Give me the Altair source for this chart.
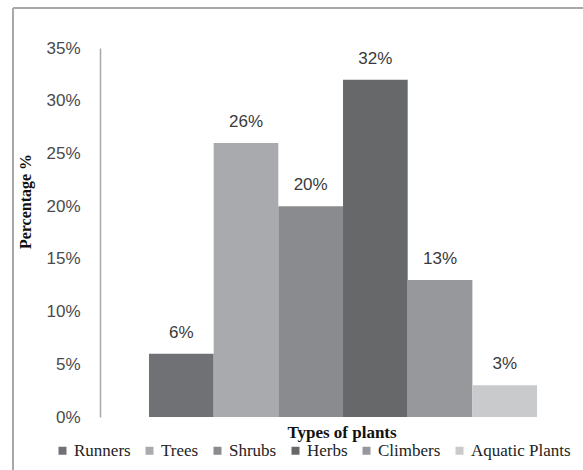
import altair as alt
import pandas as pd

# Share of each plant type
plant_types = ["Runners", "Trees", "Shrubs", "Herbs", "Climbers", "Aquatic Plants"]
shares = [0.06, 0.26, 0.20, 0.32, 0.13, 0.03]
bar_colors = ["#707175", "#a9aaad", "#8a8b8e", "#67686a", "#97989b", "#c9cacc"]

df = pd.DataFrame({"type": plant_types, "share": shares})

SANS = "Liberation Sans"
SERIF = "Liberation Serif"

x_enc = alt.X(
    "type:N",
    sort=plant_types,
    scale=alt.Scale(paddingInner=0, paddingOuter=0.734, align=0.516),
    axis=alt.Axis(
        title="Types of plants",
        labels=False,
        ticks=False,
        domain=False,
        titleFont=SERIF,
        titleFontSize=17,
        titleFontWeight="bold",
        titleColor="#111111",
        titlePadding=7,
    ),
)

y_enc = alt.Y(
    "share:Q",
    scale=alt.Scale(domain=[0, 0.35], nice=False),
    axis=alt.Axis(
        title="Percentage %",
        format=".0%",
        values=[0, 0.05, 0.10, 0.15, 0.20, 0.25, 0.30, 0.35],
        grid=False,
        ticks=False,
        domainColor="#a8a8a8",
        domainWidth=1.5,
        labelFont=SANS,
        labelFontSize=17,
        labelColor="#4a4a4a",
        labelPadding=20,
        titleFont=SERIF,
        titleFontSize=16,
        titleFontWeight="bold",
        titleColor="#111111",
        titleAngle=270,
        titleAlign="center",
        titleBaseline="middle",
        titleX=-75,
        titleY=153,
    ),
)

bars = alt.Chart(df).mark_bar(stroke=None).encode(
    x=x_enc,
    y=y_enc,
    color=alt.Color(
        "type:N",
        sort=plant_types,
        scale=alt.Scale(domain=plant_types, range=bar_colors),
        legend=alt.Legend(
            title=None,
            orient="none",
            direction="horizontal",
            columns=6,
            legendX=-46,
            legendY=394,
            symbolType="square",
            symbolSize=64,
            symbolStrokeWidth=0,
            symbolOffset=0,
            labelFont=SERIF,
            labelFontSize=17,
            labelColor="#222222",
            labelOffset=3,
            columnPadding=10,
        ),
    ),
)

labels = alt.Chart(df).mark_text(
    font=SANS, fontSize=17, color="#3a3a3a", baseline="middle", dy=-21
).encode(
    x=alt.X("type:N", sort=plant_types),
    y=alt.Y("share:Q"),
    text=alt.Text("share:Q", format=".0%"),
)

# Outer frame lines (top and left)
frame_top = alt.Chart(df).mark_rule(color="#a8a8a8", strokeWidth=1.5).encode(
    x=alt.value(-87), x2=alt.value(483), y=alt.value(-40)
)
frame_left = alt.Chart(df).mark_rule(color="#a8a8a8", strokeWidth=1.5).encode(
    x=alt.value(-87), y=alt.value(-40), y2=alt.value(422)
)

chart = (
    alt.layer(frame_top, frame_left, bars, labels)
    .properties(
        width=483,
        height=369,
        autosize=alt.AutoSizeParams(type="none"),
        padding={"left": 100, "top": 48, "right": 0, "bottom": 53},
        background="white",
    )
    .configure_view(stroke=None)
    .configure_legend(labelFont=SERIF, labelFontSize=17)
)

chart.save("out.html", embed_options={"renderer": "svg", "actions": False})
